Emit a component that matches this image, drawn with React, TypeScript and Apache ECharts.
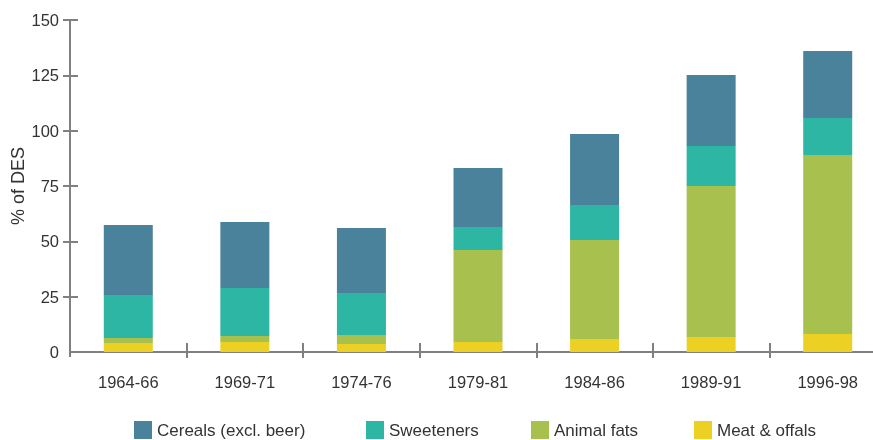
import React, { useEffect, useRef } from "react";
import * as echarts from "echarts";

const categories = ["1964-66", "1969-71", "1974-76", "1979-81", "1984-86", "1989-91", "1996-98"];
const seriesNames = ["Cereals (excl. beer)", "Sweeteners", "Animal fats", "Meat & offals"];
const meatOffals = [4.1, 4.5, 3.6, 4.5, 5.9, 6.8, 8.1];
const animalFats = [2.2, 2.7, 4.1, 41.6, 44.7, 68.2, 80.9];
const sweeteners = [19.5, 21.7, 19.0, 10.4, 15.8, 18.1, 16.7];
const cereals = [31.6, 29.8, 29.3, 26.6, 32.1, 32.1, 30.3];
const yTicks = [25, 50, 75, 100, 125, 150];

const colors = ["#4a829c", "#2db6a4", "#a8c04e", "#ecd024"];
const FONT = "'Liberation Sans', Arial, Helvetica, sans-serif";
const TEXT = "#333333";
const AXIS = "#808080";

export default function App() {
  const ref = useRef<HTMLDivElement>(null);
  useEffect(() => {
    document.body.style.margin = "0";
    if (!ref.current) return;
    const chart = echarts.init(ref.current, undefined, { renderer: "svg" });
    const valueAxisBase = {
      type: "value",
      min: 0,
      max: 150,
      interval: 25,
      splitLine: { show: false },
    };
    const legendPos = [134, 366, 531, 694];
    const option: any = {
      animation: false,
      textStyle: { fontFamily: FONT },
      grid: {
        left: 70,
        top: 20,
        width: 816,
        height: 332,
        containLabel: false,
        outerBoundsMode: "none",
      },
      legend: seriesNames.map((n, i) => ({
        data: [n],
        left: legendPos[i],
        top: 421,
        padding: 0,
        itemWidth: 18,
        itemHeight: 18,
        icon: "rect",
        selectedMode: false,
        textStyle: { fontSize: 17, color: TEXT, fontFamily: FONT },
      })),
      xAxis: [
        {
          type: "category",
          data: categories,
          position: "bottom",
          offset: 4,
          boundaryGap: true,
          axisLine: { show: true, lineStyle: { color: AXIS, width: 2 } },
          axisTick: {
            show: true,
            length: 6,
            inside: false,
            interval: (i: number) => i !== 0,
            lineStyle: { color: AXIS, width: 2 },
          },
          axisLabel: { fontSize: 16.5, color: TEXT, margin: 17, fontFamily: FONT },
        },
        {
          type: "category",
          data: categories,
          position: "bottom",
          offset: 4,
          boundaryGap: true,
          axisLine: { show: false },
          axisTick: {
            show: true,
            length: 9,
            inside: true,
            interval: (i: number) => i !== 0,
            lineStyle: { color: AXIS, width: 2 },
          },
          axisLabel: { show: false },
        },
      ],
      yAxis: [
        {
          ...valueAxisBase,
          position: "left",
          name: "% of DES",
          nameLocation: "middle",
          nameGap: 43,
          nameMoveOverlap: false,
          nameTextStyle: { fontSize: 18, color: TEXT, fontFamily: FONT },
          axisLine: { show: true, lineStyle: { color: AXIS, width: 2 } },
          axisTick: { show: true, length: 7, customValues: yTicks, lineStyle: { color: AXIS, width: 2 } },
          axisLabel: { fontSize: 16.5, color: TEXT, margin: 11, fontFamily: FONT },
        },
        {
          ...valueAxisBase,
          position: "left",
          axisLine: { show: false },
          axisTick: { show: true, inside: true, length: 8, customValues: yTicks, lineStyle: { color: AXIS, width: 2 } },
          axisLabel: { show: false },
        },
      ],
      graphic: [
        {
          type: "line",
          shape: { x1: 70, y1: 350, x2: 70, y2: 357 },
          style: { stroke: AXIS, lineWidth: 2 },
          silent: true,
        },
      ],
      series: [
        { name: seriesNames[3], data: meatOffals, color: colors[3] },
        { name: seriesNames[2], data: animalFats, color: colors[2] },
        { name: seriesNames[1], data: sweeteners, color: colors[1] },
        { name: seriesNames[0], data: cereals, color: colors[0] },
      ].map((s) => ({
        ...s,
        type: "bar",
        stack: "total",
        barWidth: 49,
        itemStyle: { color: s.color },
        emphasis: { disabled: true },
      })),
    };
    chart.setOption(option);
    return () => chart.dispose();
  }, []);
  return (
    <div
      ref={ref}
      style={{ position: "fixed", left: 0, top: 0, width: 873, height: 440 }}
    />
  );
}
